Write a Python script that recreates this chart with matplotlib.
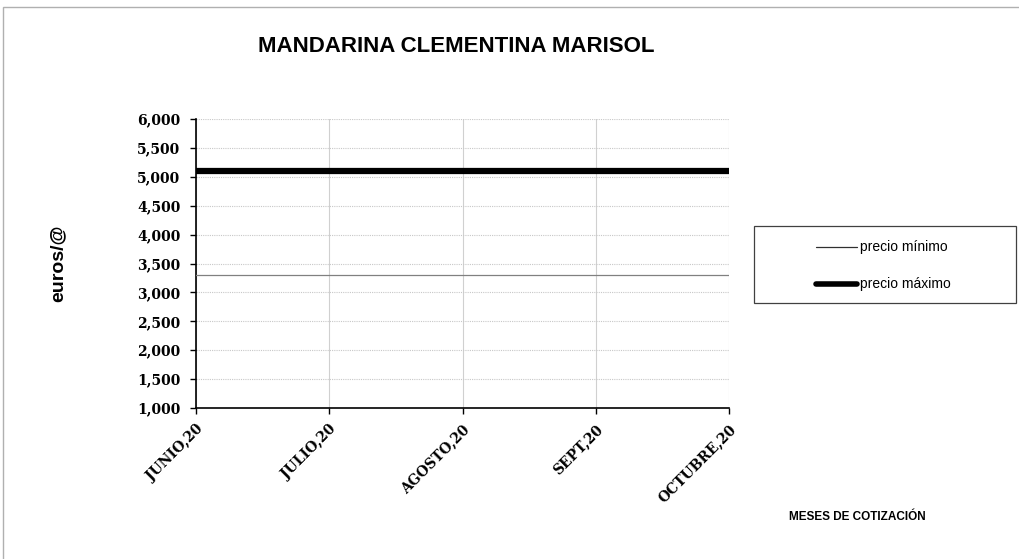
import matplotlib
matplotlib.use("Agg")
import matplotlib.pyplot as plt
from matplotlib.patches import Rectangle
from matplotlib.lines import Line2D
from matplotlib.ticker import FuncFormatter

months = ["JUNIO,20", "JULIO,20", "AGOSTO,20", "SEPT,20", "OCTUBRE,20"]
precio_minimo = [3.30, 3.30, 3.30, 3.30, 3.30]
precio_maximo = [5.10, 5.10, 5.10, 5.10, 5.10]
yticks = [1.0, 1.5, 2.0, 2.5, 3.0, 3.5, 4.0, 4.5, 5.0, 5.5, 6.0]

W, H = 1019, 559
fig = plt.figure(figsize=(W / 100, H / 100), dpi=100)
fig.patch.set_facecolor("white")

def fx(px):
    return px / W

def fy(py):
    return 1 - py / H

# outer chart border
fig.add_artist(Rectangle((fx(3), -0.01), 1.02, fy(7) + 0.01, transform=fig.transFigure,
                         fill=False, edgecolor="#b0b0b0", linewidth=1))

ax = fig.add_axes([fx(196), fy(408), (729 - 196) / W, (408 - 119) / H])
x = list(range(len(months)))
ax.plot(x, precio_minimo, color="#808080", linewidth=0.9, label="precio mínimo", zorder=3)
ax.plot(x, precio_maximo, color="black", linewidth=4.5, label="precio máximo", zorder=4,
        clip_on=False, solid_capstyle="butt")

ax.set_xlim(0, len(months) - 1)
ax.set_ylim(1.0, 6.0)
ax.set_yticks(yticks)
ax.yaxis.set_major_formatter(FuncFormatter(lambda v, p: f"{v:,.3f}".replace(".", ",")))
ax.set_xticks(x)
ax.set_xticklabels(months, rotation=45, ha="right", rotation_mode="anchor")

serif = ["DejaVu Serif"]
for lab in ax.get_yticklabels():
    lab.set_fontfamily(serif)
    lab.set_fontweight("bold")
    lab.set_fontsize(10)
for lab in ax.get_xticklabels():
    lab.set_fontfamily(serif)
    lab.set_fontweight("bold")
    lab.set_fontsize(10)

ax.grid(axis="y", color="#c8c8c8", linestyle=(0, (1, 1)), linewidth=0.8)
ax.grid(axis="x", color="#d0d0d0", linestyle="-", linewidth=0.8)
ax.set_axisbelow(True)
for s in ["top", "right"]:
    ax.spines[s].set_visible(False)
ax.spines["left"].set_linewidth(1.2)
ax.spines["bottom"].set_linewidth(1.2)
ax.tick_params(axis="y", length=4.3, width=1, color="black", pad=7)
ax.tick_params(axis="x", length=4.3, width=1, color="black", pad=6)

fig.text(fx(456), fy(46), "MANDARINA CLEMENTINA MARISOL", ha="center", va="center",
         fontsize=16, fontweight="bold", family="Liberation Sans")
fig.text(fx(58), fy(263), "euros/@", ha="center", va="center", rotation=90,
         fontsize=14, fontweight="bold", family="Liberation Sans")
fig.text(fx(857), fy(517), "MESES DE COTIZACIÓN", ha="center", va="center",
         fontsize=8.5, fontweight="bold", family="Liberation Sans")

# legend (manual box)
fig.add_artist(Rectangle((fx(754), fy(303)), (1016 - 754) / W, (303 - 226) / H,
                         transform=fig.transFigure, fill=False, edgecolor="#404040", linewidth=0.9))
leg_labels = ["precio mínimo", "precio máximo"]
leg_y = [247, 284]
leg_lw = [0.9, 4.0]
leg_col = ["#303030", "black"]
for lbl, yy, lw, c in zip(leg_labels, leg_y, leg_lw, leg_col):
    fig.add_artist(Line2D([fx(816), fx(857)], [fy(yy), fy(yy)], transform=fig.transFigure,
                          color=c, linewidth=lw, solid_capstyle="round"))
    fig.text(fx(860), fy(yy), lbl, ha="left", va="center", fontsize=10,
             family="Liberation Sans")

fig.savefig("out.png", dpi=100, facecolor="white")
